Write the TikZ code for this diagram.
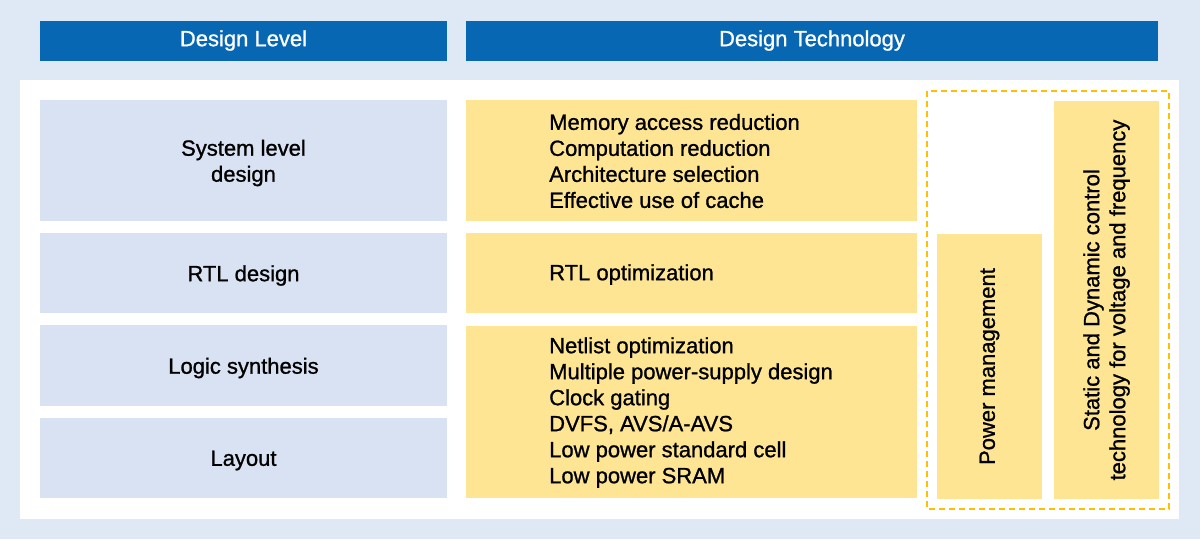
\documentclass[tikz,border=0pt]{standalone}
\usepackage{fontspec}
\setmainfont{Liberation Sans}[FakeBold=1]
\usetikzlibrary{positioning}
\definecolor{bgblue}{HTML}{DFE8F5}
\definecolor{hdrblue}{HTML}{0767B3}
\definecolor{lvblue}{HTML}{D9E2F2}
\definecolor{techyellow}{HTML}{FDE594}
\definecolor{dashyellow}{HTML}{FFC000}
\tikzset{
  txt/.style={font=\fontsize{22}{26}\selectfont},
  hdr/.style={txt, fill=hdrblue, text=white, inner sep=0pt},
  lvbox/.style={fill=lvblue, inner sep=0pt},
  lvtext/.style={txt, align=center, inner sep=0pt},
  techbox/.style={fill=techyellow, inner sep=0pt},
  techtext/.style={txt, anchor=west, align=left, inner sep=0pt},
  vtext/.style={txt, rotate=90, align=center, inner sep=0pt},
  pmframe/.style={draw=dashyellow, line width=2.2pt, dash pattern=on 6pt off 4pt}
}
\begin{document}
\begin{tikzpicture}[x=1pt,y=-1pt]
\fill[bgblue] (0,0) rectangle (1200,539);
\useasboundingbox (0,0) rectangle (1200,539);
\fill[white] (20,80) rectangle (1179,519);
% headers
\node[hdr, minimum width=407pt, minimum height=40pt] (hlevel) at (243.5,40.5) {Design Level};
\node[hdr, minimum width=692pt, minimum height=40pt] (htech) at (812,40.5) {Design Technology};
% design level boxes
\node[lvbox, minimum width=407pt, minimum height=121pt] (sys) at (243.5,160.5) {};
\node[lvbox, minimum width=407pt, minimum height=80pt] (rtl) at (243.5,273) {};
\node[lvbox, minimum width=407pt, minimum height=81pt] (logic) at (243.5,365.5) {};
\node[lvbox, minimum width=407pt, minimum height=80pt] (layout) at (243.5,458) {};
\node[lvtext, yshift=-2.5pt] (systext) at (sys.center) {System level\\design};
\node[lvtext, yshift=-2.5pt] (rtltext) at (rtl.center) {RTL design};
\node[lvtext, yshift=-2.5pt] (logictext) at (logic.center) {Logic synthesis};
\node[lvtext, yshift=-2.5pt] (layouttext) at (layout.center) {Layout};
% technology boxes
\node[techbox, minimum width=451pt, minimum height=121pt] (t1) at (691.5,160.5) {};
\node[techbox, minimum width=451pt, minimum height=80pt] (t2) at (691.5,273) {};
\node[techbox, minimum width=451pt, minimum height=172pt] (t3) at (691.5,412) {};
\node[techtext] (t1text) at (549,161) {Memory access reduction\\Computation reduction\\Architecture selection\\Effective use of cache};
\node[techtext] (t2text) at (549,274.5) {RTL optimization};
\node[techtext] (t3text) at (549,412.5) {Netlist optimization\\Multiple power-supply design\\Clock gating\\DVFS, AVS/A-AVS\\Low power standard cell\\Low power SRAM};
% power management
\draw[pmframe] (927,91) rectangle (1169,509);
\node[techbox, minimum width=105pt, minimum height=265pt] (pm) at (989.5,366.5) {};
\node[vtext] (pmtext) at (pm.center) {Power management};
\node[techbox, minimum width=105pt, minimum height=398pt] (sd) at (1106.5,300) {};
\node[vtext] (sdtext) at (sd.center) {Static and Dynamic control\\technology for voltage and frequency};
\end{tikzpicture}
\end{document}
